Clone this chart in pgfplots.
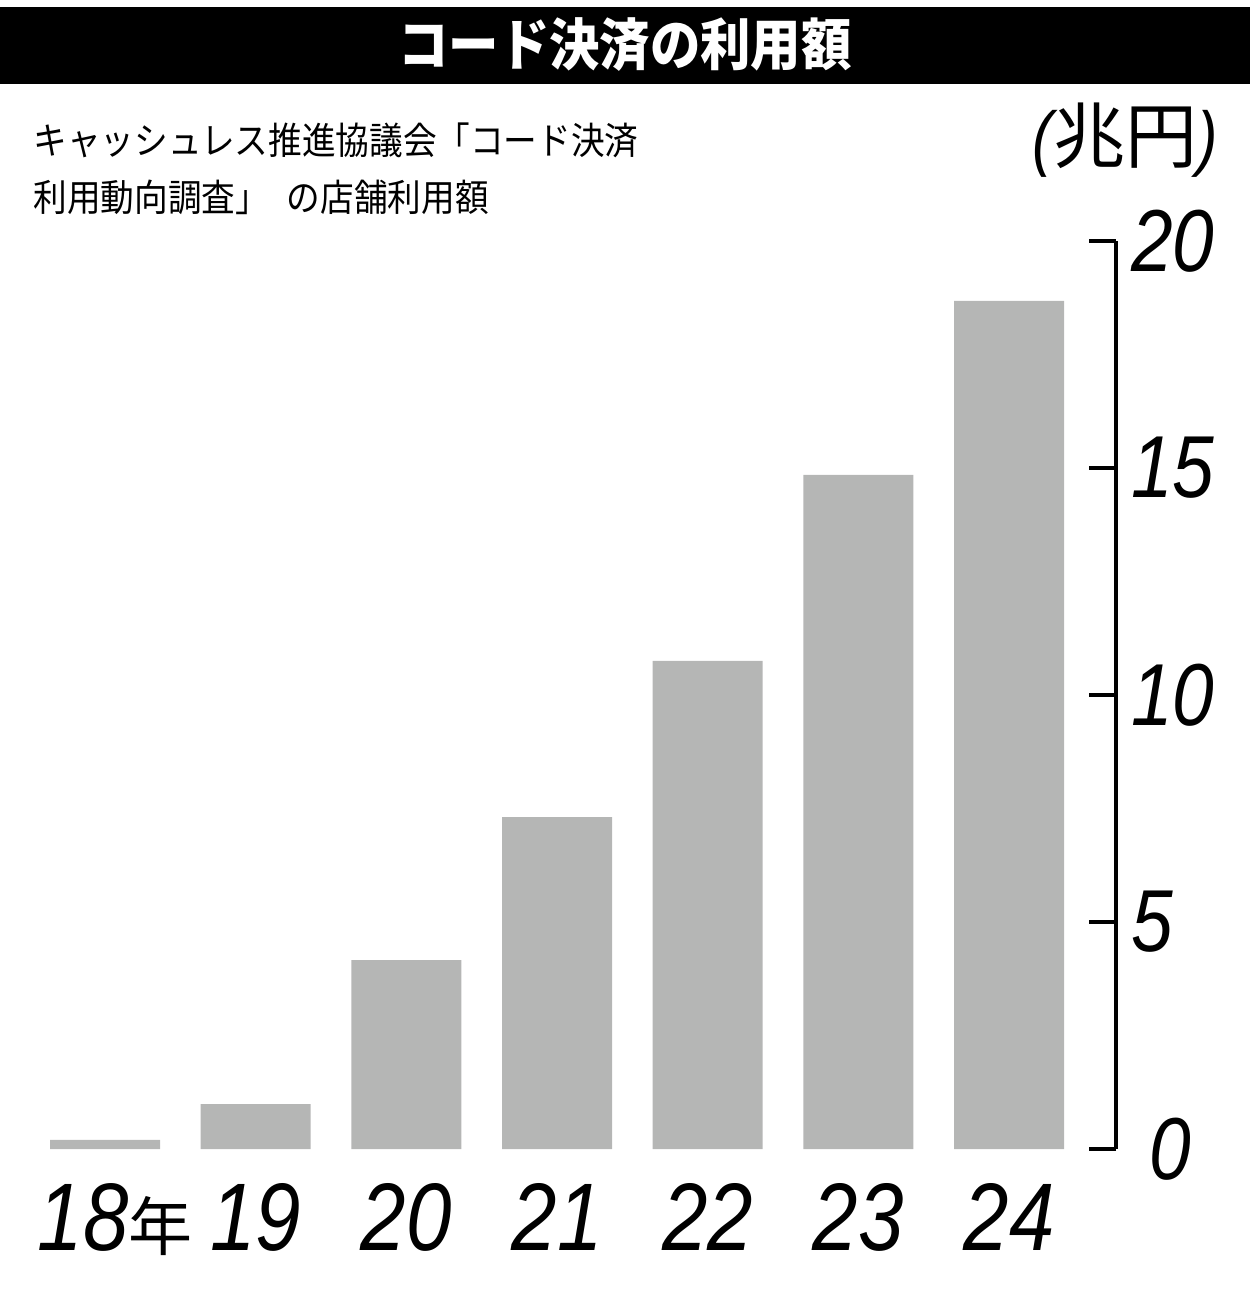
\documentclass[border=0pt]{standalone}
\usepackage{pgfplots}
\pgfplotsset{compat=1.18}
\usepackage{fontspec}
\setmainfont{Liberation Sans}
\newfontfamily\cjk{Noto Sans CJK JP}
\newfontfamily\cjkn[FakeStretch=0.9]{Noto Sans CJK JP}
\newfontfamily\hand[FakeStretch=0.85]{Liberation Sans}
\definecolor{bargray}{RGB}{181,182,181}
\begin{document}
\begin{tikzpicture}
\begin{scope}[x=0.5pt,y=-0.5pt]
\path[use as bounding box] (0,0) rectangle (1250,1292);
\fill[black] (0,7) rectangle (1250,84);
\node[text=white, inner sep=0pt, font=\cjkn\bfseries\fontsize{28}{28}\selectfont] at (625,45) {コード決済の利用額};
\node[anchor=west, inner sep=0pt, font=\cjkn\fontsize{18.7}{18.7}\selectfont] at (33,140) {キャッシュレス推進協議会「コード決済};
\node[anchor=west, inner sep=0pt, font=\cjkn\fontsize{18.7}{18.7}\selectfont] at (33,197) {利用動向調査」\hspace{9pt}の店舗利用額};
\node[inner sep=0pt, font=\fontsize{36}{36}\selectfont] at (1125,140) {{\hand\itshape(}{\cjk 兆円}{\hand\itshape)}};
\end{scope}
\begin{axis}[
  at={(0pt,-574.5pt)}, anchor=south west,
  scale only axis, width=558pt, height=454pt,
  xmin=-0.697, xmax=6.71, ymin=0, ymax=20,
  axis y line*=right, axis x line*=bottom,
  x axis line style={draw=none},
  y axis line style={line width=2pt, black},
  xtick={0,1,2,3,4,5,6},
  xticklabels={{\hspace*{10pt}18{\cjk\fontsize{32}{32}\selectfont 年}},19,20,21,22,23,24},
  xtick style={draw=none},
  ytick={0,5,10,15,20},
  yticklabels={{\hspace*{9pt}0},5,10,15,20},
  ytick style={line width=2pt, black},
  tick align=inside,
  major tick length=13.5pt,
  xticklabel style={font=\hand\itshape\fontsize{48}{48}\selectfont, anchor=base, inner sep=0pt, yshift=-50.5pt},
  yticklabel style={font=\hand\itshape\fontsize{44}{44}\selectfont, anchor=west, inner sep=0pt, xshift=7.5pt},
]
\addplot[ybar, bar width=0.73, fill=bargray, draw=none] coordinates {(0,0.2) (1,0.99) (2,4.16) (3,7.31) (4,10.75) (5,14.85) (6,18.68)};
\end{axis}
\end{tikzpicture}
\end{document}
